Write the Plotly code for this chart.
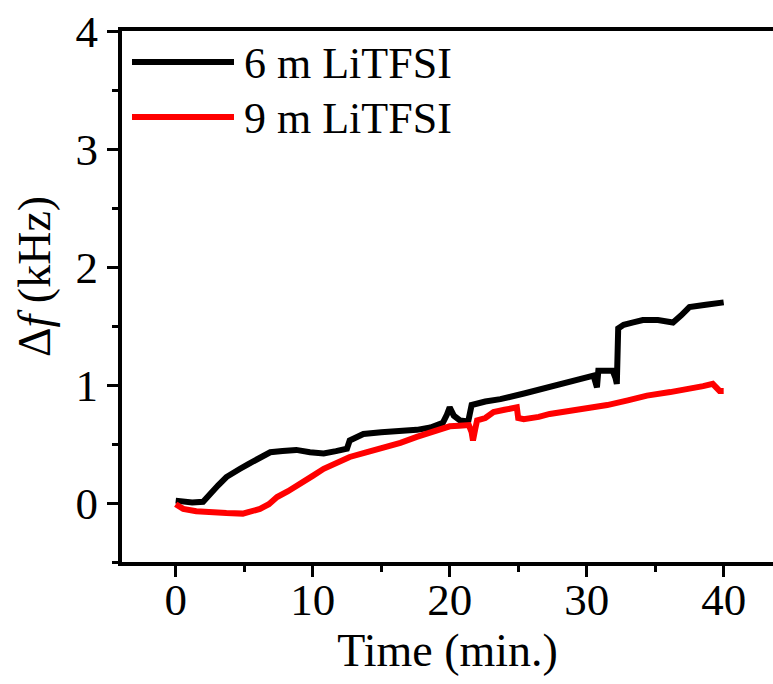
import plotly.graph_objects as go

# ---- data ----
t_6m = [0.0, 0.5, 1.2, 2.0, 2.3, 2.6, 3.1, 3.7, 4.2, 4.7, 5.3, 5.9, 6.4, 6.9, 7.8, 8.8, 9.8, 10.8, 11.7, 12.5, 12.7,
        13.2, 13.7, 15.0, 16.5, 17.6, 18.6, 19.5, 19.8, 20.0, 20.3, 20.75, 21.35, 21.45, 21.6, 22.6, 23.7, 25.5,
        27.3, 28.9, 30.5, 30.65, 30.75, 30.85, 31.4, 31.9, 32.1, 32.2, 32.3, 32.7, 33.4, 34.1, 35.2, 36.3, 36.9,
        37.5, 38.7, 40.0]
v_6m = [0.02, 0.01, 0.005, 0.01, 0.05, 0.10, 0.15, 0.22, 0.26, 0.29, 0.33, 0.37, 0.40, 0.43, 0.44, 0.45, 0.43, 0.42,
        0.44, 0.46, 0.53, 0.56, 0.585, 0.60, 0.61, 0.62, 0.64, 0.68, 0.75, 0.81, 0.74, 0.70, 0.69, 0.76, 0.83, 0.86,
        0.88, 0.93, 0.98, 1.03, 1.08, 1.02, 0.98, 1.12, 1.12, 1.12, 1.06, 1.01, 1.48, 1.51, 1.53, 1.55, 1.55, 1.53,
        1.59, 1.66, 1.68, 1.70]

t_9m = [0.0, 0.55, 1.5, 2.5, 3.7, 4.9, 5.5, 6.15, 6.8, 7.4, 8.2, 9.1, 10.0, 10.8, 11.7, 12.7, 13.9, 15.2, 16.4,
        17.6, 18.8, 20.0, 20.7, 21.4, 21.6, 21.7, 21.85, 22.0, 22.6, 23.2, 24.0, 24.9, 25.0, 25.4, 26.5, 27.3, 28.7,
        30.0, 31.5, 33.0, 34.4, 36.1, 37.8, 38.5, 39.2, 39.5, 39.7, 40.0]
v_9m = [-0.01, -0.05, -0.07, -0.08, -0.085, -0.09, -0.075, -0.05, -0.01, 0.05, 0.10, 0.16, 0.23, 0.29, 0.34, 0.39,
        0.43, 0.47, 0.51, 0.56, 0.60, 0.65, 0.655, 0.66, 0.60, 0.53, 0.62, 0.70, 0.72, 0.77, 0.79, 0.81, 0.72, 0.71,
        0.73, 0.755, 0.78, 0.80, 0.83, 0.87, 0.91, 0.94, 0.97, 0.99, 1.01, 0.98, 0.95, 0.95]

series_names = ["6 m LiTFSI", "9 m LiTFSI"]
series_colors = ["#000000", "#ff0000"]

x_ticks = [0, 10, 20, 30, 40]
y_ticks = [0, 1, 2, 3, 4]

# ---- layout constants ----
W, H = 773, 684
ML, MR, MT, MB = 122, 0, 31, 122
PW, PH = W - ML - MR, H - MT - MB
FONT = "Liberation Serif"


def px_to_paper(px, py):
    return (px - ML) / PW, (H - MB - py) / PH


fig = go.Figure()
for tx, vy, name, col in [(t_6m, v_6m, series_names[0], series_colors[0]),
                          (t_9m, v_9m, series_names[1], series_colors[1])]:
    fig.add_trace(go.Scatter(x=tx, y=vy, mode="lines", name=name, showlegend=False,
                             line=dict(color=col, width=6)))

# custom legend (long line samples like the original)
shapes = []
annotations = []
for i, (name, col) in enumerate(zip(series_names, series_colors)):
    yy = 62 + i * 55
    x0, y0 = px_to_paper(132, yy)
    x1, _ = px_to_paper(234, yy)
    xt, yt = px_to_paper(242, yy + 2)
    shapes.append(dict(type="line", xref="paper", yref="paper", x0=x0, x1=x1, y0=y0, y1=y0,
                       line=dict(color=col, width=6)))
    annotations.append(dict(text=name, xref="paper", yref="paper", x=xt, y=yt, xanchor="left",
                            yanchor="middle", showarrow=False, font=dict(family=FONT, size=44, color="black")))

# y-axis title as annotation (positioned like the original)
ytx, yty = px_to_paper(34, 277)
annotations.append(dict(text="Δ<i>f</i> (kHz)", xref="paper", yref="paper", x=ytx, y=yty,
                        xanchor="center", yanchor="middle", textangle=-90, showarrow=False,
                        font=dict(family=FONT, size=46, color="black")))

axis_common = dict(showline=True, linecolor="black", linewidth=4, ticks="outside", ticklen=11,
                   tickwidth=3, tickcolor="black", showgrid=False, zeroline=False,
                   tickfont=dict(family=FONT, size=45, color="black"))

fig.update_layout(
    width=W, height=H,
    margin=dict(l=ML, r=MR, t=MT, b=MB),
    paper_bgcolor="white", plot_bgcolor="white",
    font=dict(family=FONT),
    shapes=shapes, annotations=annotations,
    xaxis=dict(range=[-3.92, 43.6], tickvals=x_ticks, mirror=True, ticklabelstandoff=-16,
               minor=dict(dtick=5, tick0=0, ticklen=6, tickwidth=3, tickcolor="black", ticks="outside"),
               title=dict(text="Time (min.)", font=dict(family=FONT, size=46, color="black"), standoff=8),
               **axis_common),
    yaxis=dict(range=[-0.5, 4.0], tickvals=y_ticks, mirror=False,
               minor=dict(dtick=0.5, tick0=0, ticklen=6, tickwidth=3, tickcolor="black", ticks="outside"),
               **axis_common),
)

fig.write_html("out.html")
